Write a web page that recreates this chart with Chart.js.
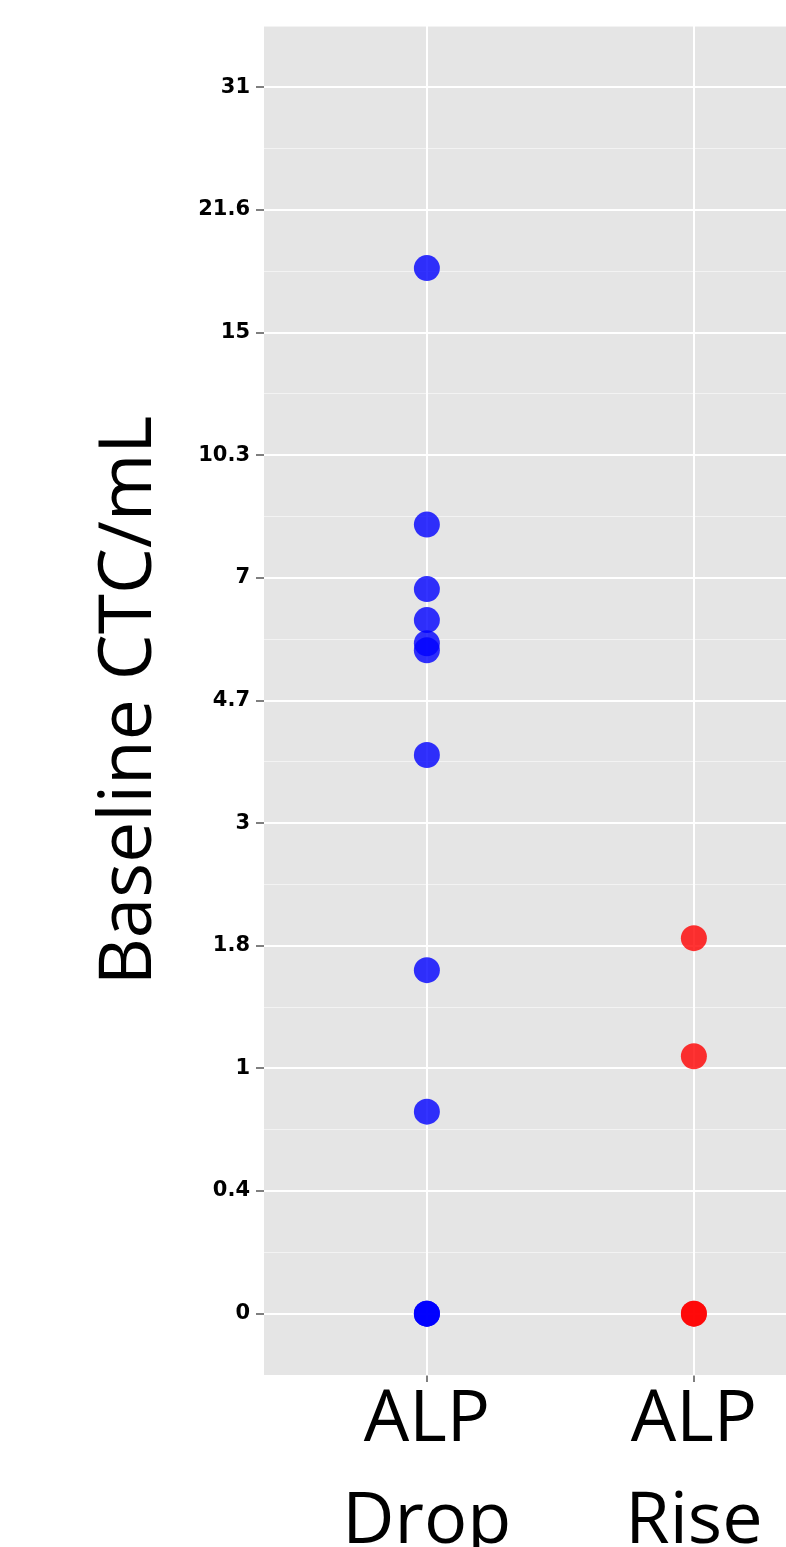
<!DOCTYPE html>
<html><head><meta charset="utf-8">
<script src="https://cdn.jsdelivr.net/npm/chart.js@4.4.1/dist/chart.umd.min.js"></script>
<style>html,body{margin:0;padding:0;background:#fff;overflow:hidden}#wrap{width:786px;height:1547px}</style>
</head><body><div id="wrap"><canvas id="c" width="786" height="1547"></canvas></div>
<script>
// Data (raw CTC/mL values)
const categories = [["ALP","Drop"],["ALP","Rise"]];
const alpDropValues = [18.2, 8.3, 6.75, 6.1, 5.65, 5.52, 3.85, 1.64, 0.77, 0, 0, 0];
const alpRiseValues = [1.89, 1.07, 0, 0];
const yTickLabels = ["0","0.4","1","1.8","3","4.7","7","10.3","15","21.6","31"];
const yTitle = "Baseline CTC/mL";

// axis transform: 2*log2(1+v) (tick labels sit on whole steps)
const tf = v => 2*Math.log2(1+v);

const bgPlugin = {
  id:'bg',
  beforeDraw(chart){
    const {ctx, chartArea:a} = chart;
    ctx.save(); ctx.fillStyle = '#E5E5E5';
    ctx.fillRect(a.left, a.top, a.right-a.left, a.bottom-a.top);
    ctx.restore();
  }
};

new Chart(document.getElementById('c'), {
  type:'scatter',
  data:{datasets:[
    {label:'ALP Drop', data: alpDropValues.map(v=>({x:1,y:tf(v)})), backgroundColor:'rgba(0,0,255,0.8)', borderWidth:0, pointRadius:13, pointHoverRadius:13},
    {label:'ALP Rise', data: alpRiseValues.map(v=>({x:2,y:tf(v)})), backgroundColor:'rgba(255,0,0,0.8)', borderWidth:0, pointRadius:13, pointHoverRadius:13}
  ]},
  options:{
    responsive:false, animation:false, devicePixelRatio:1,
    layout:{padding:{top:26,right:0,left:0,bottom:0}, autoPadding:false},
    plugins:{legend:{display:false}, tooltip:{enabled:false}},
    scales:{
      x:{
        type:'linear', min:0.39, max:2.345,
        afterBuildTicks(s){ s.ticks = categories.map((c,i)=>({value:i+1})); },
        afterFit(s){ s.height = 172; s.paddingLeft = 0; s.paddingRight = 0; },
        border:{display:false},
        grid:{color:'#FFFFFF', lineWidth:2, tickColor:'#7F7F7F', tickLength:7, tickWidth:2, drawOnChartArea:true},
        ticks:{
          callback:(v)=>categories[Math.round(v)-1],
          color:'#000', padding:-13, maxRotation:0, autoSkip:false,
          font:{family:'"Open Sans"', size:72, lineHeight:1.42}
        }
      },
      y:{
        type:'linear', min:-0.5, max:10.5,
        afterBuildTicks(s){ const t=[]; for(let k=-0.5;k<=10.5+1e-9;k+=0.5) t.push({value:k}); s.ticks=t; },
        afterFit(s){ s.width = 264; s.paddingTop = 0; s.paddingBottom = 0; },
        border:{display:false},
        grid:{
          color:(c)=> Number.isInteger(c.tick.value) ? '#FFFFFF' : 'rgba(255,255,255,0.55)',
          lineWidth:(c)=> Number.isInteger(c.tick.value) ? 2 : 1,
          tickColor:(c)=> Number.isInteger(c.tick.value) ? '#7F7F7F' : 'rgba(0,0,0,0)',
          tickLength:8, tickWidth:2
        },
        ticks:{
          callback:(v)=> Number.isInteger(v) && v>=0 && v<yTickLabels.length ? yTickLabels[v] : '',
          color:'#000', padding:6, autoSkip:false,
          font:{family:'"DejaVu Sans"', size:21, weight:'bold'}
        },
        title:{display:true, text:yTitle, color:'#000', padding:{top:86,bottom:0},
          font:{family:'"Open Sans"', size:73, lineHeight:1.2}}
      }
    }
  },
  plugins:[bgPlugin]
});
</script></body></html>
